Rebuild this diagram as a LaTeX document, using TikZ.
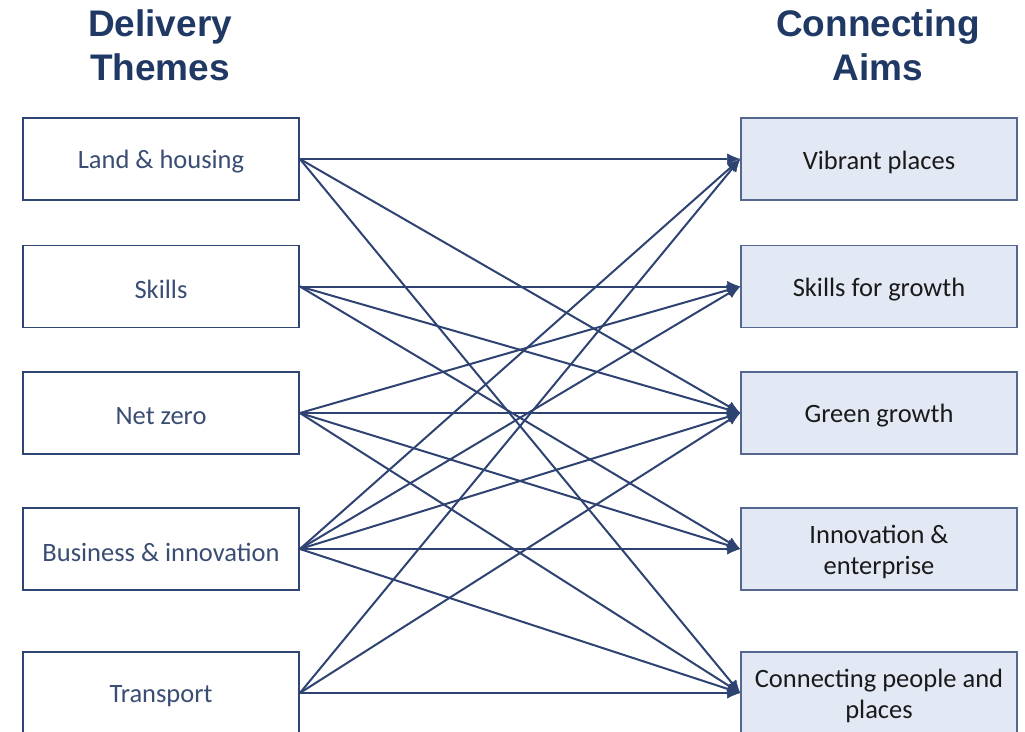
\documentclass[tikz,border=0pt]{standalone}
\usepackage{fontspec}
\setmainfont{Carlito}
\newfontfamily\headfont{Liberation Sans}
\usetikzlibrary{arrows.meta}
\definecolor{headblue}{HTML}{1F3864}
\definecolor{lineblue}{HTML}{2E4372}
\definecolor{leftborder}{HTML}{2F4675}
\definecolor{lefttext}{HTML}{3A4D73}
\definecolor{rightfill}{HTML}{E3E8F5}
\definecolor{rightborder}{HTML}{55678F}
\definecolor{righttext}{HTML}{1A1A1A}
\tikzset{
  x=1pt, y=-1pt,
  theme/.style={draw=leftborder, line width=1.8pt, fill=white, minimum width=276pt, minimum height=82pt, inner sep=0pt},
  aim/.style={draw=rightborder, line width=1.6pt, fill=rightfill, minimum width=276pt, minimum height=82pt, inner sep=0pt},
  themetext/.style={text=lefttext, font=\fontsize{26.5}{31}\selectfont, align=center, inner sep=0pt, yshift=-3pt},
  aimtext/.style={text=righttext, font=\fontsize{26.5}{31}\selectfont, align=center, inner sep=0pt, yshift=-3pt},
  header/.style={text=headblue, font=\headfont\bfseries\fontsize{37}{44}\selectfont, align=center, inner sep=0pt},
  link/.style={draw=lineblue, line width=2pt, -{Latex[length=13pt,width=11pt,line width=0.5pt,fill=lineblue]}}
}
\begin{document}
\begin{tikzpicture}
\useasboundingbox (0,0) rectangle (1025,731);
\begin{scope}
\clip (0,0) rectangle (1025,731);
\node[header] (h1) at (160,45) {Delivery\\Themes};
\node[header] (h2) at (878,45) {Connecting\\Aims};

\node[theme, label={[themetext]center:Land \& housing}] (L) at (161,159) {};
\node[theme, label={[themetext]center:Skills}] (S) at (161,286.5) {};
\node[theme, label={[themetext]center:Net zero}] (N) at (161,413) {};
\node[theme, label={[themetext]center:Business \& innovation}] (B) at (161,549) {};
\node[theme, label={[themetext]center:Transport}] (T) at (161,693) {};

\node[aim, label={[aimtext]center:Vibrant places}] (V) at (879,159) {};
\node[aim, label={[aimtext]center:Skills for growth}] (G) at (879,286.5) {};
\node[aim, label={[aimtext]center:Green growth}] (E) at (879,413) {};
\node[aim, label={[aimtext]center:{Innovation \&\\enterprise}}] (I) at (879,549) {};
\node[aim, label={[aimtext]center:{Connecting people and\\places}}] (C) at (879,693) {};

\foreach \a/\b in {L/V, L/E, L/C,
                   S/G, S/E, S/I,
                   N/G, N/E, N/I, N/C,
                   B/V, B/G, B/E, B/I, B/C,
                   T/V, T/E, T/C}
  \draw[link] (\a.east) -- (\b.west);
\end{scope}
\end{tikzpicture}
\end{document}
